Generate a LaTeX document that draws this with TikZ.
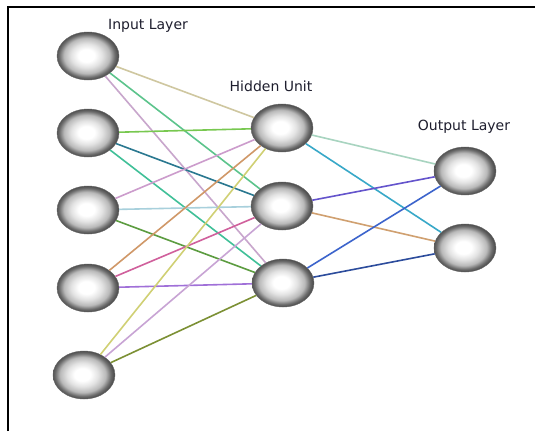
\documentclass[tikz,border=0pt]{standalone}
\usepackage{fontspec}
\setmainfont{DejaVu Sans}
\usetikzlibrary{shapes.geometric}
\pgfdeclareradialshading{neuron}{\pgfpoint{-1.5bp}{0.5bp}}{%
  color(0bp)=(white); color(6.5bp)=(white); color(12.5bp)=(gray!22);
  color(18.5bp)=(gray!55); color(22.5bp)=(black!58); color(25bp)=(black!70);
  color(50bp)=(black!70)}
\definecolor{e11}{HTML}{CFC7A0}
\definecolor{e12}{HTML}{5CC48C}
\definecolor{e13}{HTML}{C8A6CC}
\definecolor{e21}{HTML}{78C850}
\definecolor{e22}{HTML}{2A7890}
\definecolor{e23}{HTML}{40C098}
\definecolor{e31}{HTML}{CC9CCC}
\definecolor{e32}{HTML}{A8D0DC}
\definecolor{e33}{HTML}{5C9C40}
\definecolor{e41}{HTML}{D09868}
\definecolor{e42}{HTML}{D0609C}
\definecolor{e43}{HTML}{A070D8}
\definecolor{e51}{HTML}{D0D074}
\definecolor{e52}{HTML}{C8A4D4}
\definecolor{e53}{HTML}{7C9034}
\definecolor{f11}{HTML}{A8D4C0}
\definecolor{f12}{HTML}{38A8C8}
\definecolor{f21}{HTML}{6454CC}
\definecolor{f22}{HTML}{D0A070}
\definecolor{f31}{HTML}{3C64CC}
\definecolor{f32}{HTML}{2C4C9C}
\definecolor{labelcol}{HTML}{1E1E2E}
\tikzset{
  neuronnode/.style={ellipse, minimum width=62bp, minimum height=48bp, inner sep=0pt,
    shading=neuron, draw=black!60, line width=0.4bp},
  layerlabel/.style={font=\fontsize{14bp}{16bp}\selectfont, text=labelcol, inner sep=0pt},
  link/.style={line width=1.6bp},
  frameline/.style={line width=2.4bp, black}
}
\begin{document}
\begin{tikzpicture}[x=1bp,y=-1bp]
\useasboundingbox (0,0) rectangle (535,431);
\fill[white] (0,0) rectangle (535,431);
\coordinate (fa) at (8,431);
\coordinate (fb) at (8,7);
\coordinate (fc) at (535,7);
\draw[frameline] (fa) -- (fb) -- (fc);

\node[layerlabel] (tin) at (148,26) {Input Layer};
\node[layerlabel] (thid) at (271,86) {Hidden Unit};
\node[layerlabel] (tout) at (464,127) {Output Layer};

\node[neuronnode] (i1) at (88,56) {};
\node[neuronnode] (i2) at (88,133) {};
\node[neuronnode] (i3) at (88,210) {};
\node[neuronnode] (i4) at (88,288) {};
\node[neuronnode] (i5) at (84,375) {};
\node[neuronnode] (h1) at (282,128) {};
\node[neuronnode] (h2) at (282,206) {};
\node[neuronnode] (h3) at (283,283) {};
\node[neuronnode] (o1) at (465,171) {};
\node[neuronnode] (o2) at (465,248) {};

\draw[link,e11] (i1) -- (h1);
\draw[link,e12] (i1) -- (h2);
\draw[link,e13] (i1) -- (h3);
\draw[link,e21] (i2) -- (h1);
\draw[link,e22] (i2) -- (h2);
\draw[link,e23] (i2) -- (h3);
\draw[link,e31] (i3) -- (h1);
\draw[link,e32] (i3) -- (h2);
\draw[link,e33] (i3) -- (h3);
\draw[link,e41] (i4) -- (h1);
\draw[link,e42] (i4) -- (h2);
\draw[link,e43] (i4) -- (h3);
\draw[link,e51] (i5) -- (h1);
\draw[link,e52] (i5) -- (h2);
\draw[link,e53] (i5) -- (h3);
\draw[link,f11] (h1) -- (o1);
\draw[link,f12] (h1) -- (o2);
\draw[link,f21] (h2) -- (o1);
\draw[link,f22] (h2) -- (o2);
\draw[link,f31] (h3) -- (o1);
\draw[link,f32] (h3) -- (o2);
\end{tikzpicture}
\end{document}
